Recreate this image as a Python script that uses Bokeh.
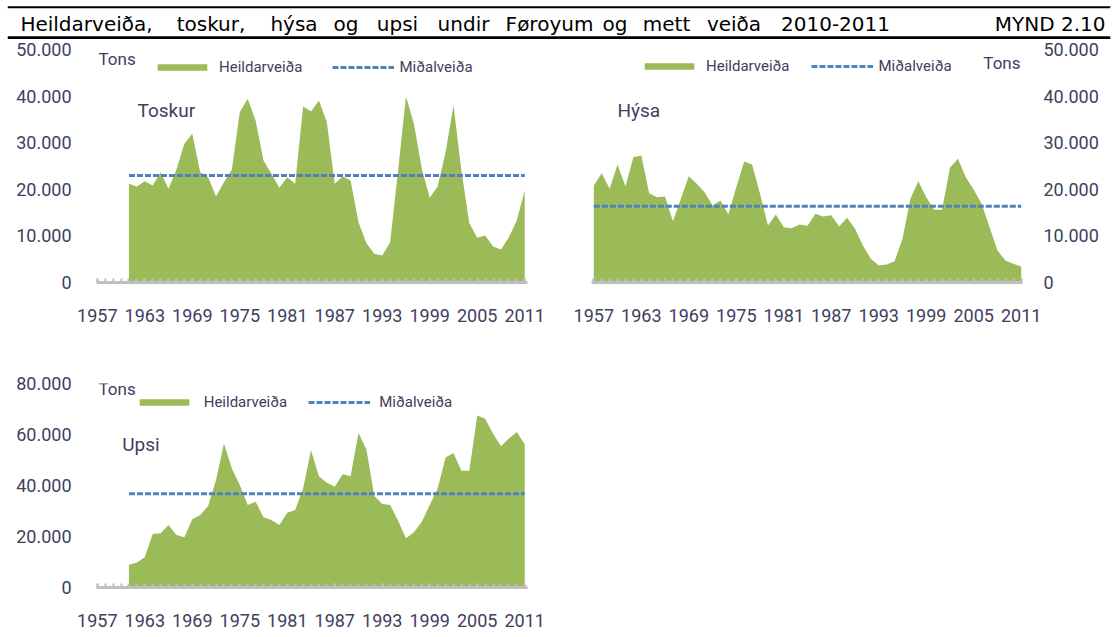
from bokeh.plotting import figure
from bokeh.models import Range1d, FixedTicker, Legend, LegendItem, Label, Span, ColumnDataSource
from bokeh.layouts import column, row
from bokeh.embed import file_html
from bokeh.resources import INLINE
from bokeh.core.properties import value

# ---------------- data ----------------
title_text = "Heildarveiða, toskur, hýsa og upsi undir Føroyum og mett veiða 2010-2011"
figure_tag = "MYND 2.10"
unit_label = "Tons"
panel_names = ["Toskur", "Hýsa", "Upsi"]
legend_labels = ["Heildarveiða", "Miðalveiða"]

years_toskur = list(range(1961, 2012))
toskur = [21170, 20600, 21750, 20820, 23680, 20100, 24250, 29760, 31900, 23680,
          22600, 18450, 21530, 24180, 36550, 39410, 34760, 26180, 23320, 20310,
          22600, 21170, 37770, 36700, 39060, 34410, 21170, 22750, 21890, 12950,
          8440, 6150, 5790, 8660, 24030, 39910, 34050, 24390, 18170, 20600,
          27970, 37980, 24030, 12730, 9590, 10090, 7730, 7080, 9730, 13300, 19740]
toskur_mean = 22960

years_hysa = list(range(1957, 2012))
hysa = [20820, 23460, 20100, 25320, 20600, 26900, 27250, 19170, 18310, 18450,
        13160, 17950, 22820, 21170, 19380, 16520, 17600, 14590, 20460, 25970,
        25320, 19030, 12230, 14590, 11870, 11660, 12450, 12160, 14740, 14160,
        14450, 12020, 13880, 11520, 7940, 5080, 3650, 3860, 4580, 9370,
        17950, 21750, 18310, 15590, 15590, 24610, 26540, 22600, 19890, 16880,
        11870, 6870, 4720, 4010, 3430]
hysa_mean = 16380

years_upsi = list(range(1961, 2012))
upsi = [8910, 9820, 11900, 21020, 21280, 24530, 20630, 19710, 26740, 28440,
        31950, 42110, 56430, 46670, 40160, 32340, 33650, 27530, 26480, 24530,
        29350, 30390, 38850, 53830, 43670, 41070, 39510, 44450, 43670, 60600,
        54090, 35860, 32730, 32340, 26220, 19320, 21670, 25830, 32340, 38850,
        50960, 52790, 45750, 45750, 67500, 66200, 60340, 55390, 58390, 60990, 56170]
upsi_mean = 36770

axis_years = list(range(1957, 2012))
x_ticks = [1957, 1963, 1969, 1975, 1981, 1987, 1993, 1999, 2005, 2011]
x_tick_labels = ["1957", "1963", "1969", "1975", "1981", "1987", "1993", "1999", "2005", "2011"]
y_ticks_50 = [0, 10000, 20000, 30000, 40000, 50000]
y_labels_50 = ["0", "10.000", "20.000", "30.000", "40.000", "50.000"]
y_ticks_80 = [0, 20000, 40000, 60000, 80000]
y_labels_80 = ["0", "20.000", "40.000", "60.000", "80.000"]

# ---------------- style ----------------
GREEN = "#9BBB59"
BLUE = "#4F81BD"
AXIS = "#BFBFBF"
TEXT = "#404060"
FONT = "Roboto"
LBL_DY = -7   # empirical baseline correction for labels (page px)


def to_data(frame, xr, yr, px, py):
    l, t, r, b = frame
    x = xr[0] + (px - l) / (r - l) * (xr[1] - xr[0])
    y = yr[0] + (b - py) / (b - t) * (yr[1] - yr[0])
    return x, y


def make_panel(years, vals, mean, name, fig_box, frame, xr, ymax, y_ticks, y_labels,
               y_side, x_standoff, y_standoff, leg_x, leg_y, leg_spacing, leg_standoff,
               tons_pos, tons_align, name_pos):
    px, py, w, h = fig_box
    l, t, r, b = frame
    p = figure(width=w, height=h, output_backend="svg", toolbar_location=None,
               x_range=Range1d(*xr), y_range=Range1d(0, ymax),
               y_axis_location=y_side,
               min_border_left=l - px, min_border_top=t - py,
               min_border_right=px + w - r, min_border_bottom=py + h - b)
    p.outline_line_color = None
    p.xgrid.visible = False
    p.ygrid.visible = False
    p.background_fill_color = "white"
    p.border_fill_color = "white"

    src = ColumnDataSource(dict(year=years, catch=vals))
    area = p.varea(x="year", y1=0, y2="catch", source=src, fill_color=GREEN, fill_alpha=1.0)
    mean_src = ColumnDataSource(dict(year=[years[0], years[-1]], mean=[mean, mean]))
    mline = p.line(x="year", y="mean", source=mean_src, line_color=BLUE, line_width=3,
                   line_dash="6 2")

    xa = p.xaxis[0]
    xa.ticker = FixedTicker(ticks=x_ticks, minor_ticks=axis_years)
    xa.major_label_overrides = dict(zip(x_ticks, x_tick_labels))
    xa.axis_line_color = AXIS
    xa.axis_line_width = 3
    xa.major_tick_in = 4
    xa.major_tick_out = 0
    xa.minor_tick_in = 4
    xa.minor_tick_out = 0
    xa.major_tick_line_color = AXIS
    xa.minor_tick_line_color = AXIS
    xa.major_tick_line_width = 2
    xa.minor_tick_line_width = 2
    xa.major_label_standoff = x_standoff
    xa.major_label_text_font = FONT
    xa.major_label_text_font_size = "18px"
    xa.major_label_text_color = TEXT

    ya = p.yaxis[0]
    ya.ticker = FixedTicker(ticks=y_ticks)
    ya.major_label_overrides = dict(zip(y_ticks, y_labels))
    ya.axis_line_color = None
    ya.major_tick_line_color = None
    ya.minor_tick_line_color = None
    ya.major_label_standoff = y_standoff
    ya.major_label_text_font = FONT
    ya.major_label_text_font_size = "18px"
    ya.major_label_text_color = TEXT

    leg = Legend(items=[LegendItem(label=value(legend_labels[0]), renderers=[area]),
                        LegendItem(label=value(legend_labels[1]), renderers=[mline])],
                 orientation="horizontal", location=(leg_x, leg_y), padding=0, margin=0,
                 spacing=leg_spacing, label_standoff=leg_standoff, glyph_width=62,
                 glyph_height=8, label_height=8, label_width=10,
                 border_line_color=None, background_fill_alpha=0,
                 label_text_font=FONT, label_text_font_size="15px",
                 label_text_color=TEXT, label_text_baseline="alphabetic")
    p.add_layout(leg)

    tx, ty = to_data(frame, xr, (0, ymax), tons_pos[0], tons_pos[1] + LBL_DY)
    p.add_layout(Label(x=tx, y=ty, text=unit_label, text_font=FONT, text_font_size="17px",
                       text_color=TEXT, text_baseline="alphabetic", text_align=tons_align))
    nx, ny = to_data(frame, xr, (0, ymax), name_pos[0], name_pos[1] + LBL_DY)
    p.add_layout(Label(x=nx, y=ny, text=name, text_font=FONT, text_font_size="19px",
                       text_color=TEXT, text_baseline="alphabetic", text_align="left"))
    return p


# ---------------- header ----------------
HDR_L, HDR_R = 7, 1110
header = figure(width=1115, height=39, output_backend="svg", toolbar_location=None,
                x_range=Range1d(0, HDR_R - HDR_L), y_range=Range1d(0, 39),
                x_axis_location=None, y_axis_location=None, min_border=0,
                min_border_left=HDR_L, min_border_right=1115 - HDR_R)
header.outline_line_color = None
header.xgrid.visible = False
header.ygrid.visible = False
header.add_layout(Span(location=39 - 6.7, dimension="width", line_color="black", line_width=2))
header.add_layout(Span(location=39 - 37.3, dimension="width", line_color="black", line_width=3))
title_words = title_text.split(" ")
title_word_cx = [86, 210.5, 293.5, 345.5, 397, 463, 549, 614.5, 666, 733.5, 835]
TITLE_BASE = 39 - (30 + LBL_DY)
for wd, wx in zip(title_words, title_word_cx):
    header.add_layout(Label(x=wx - HDR_L, y=TITLE_BASE, text=wd, text_font="DejaVu Sans",
                            text_font_size="20px", text_color="black",
                            text_baseline="alphabetic", text_align="center"))
header.add_layout(Label(x=1105 - HDR_L, y=TITLE_BASE, text=figure_tag, text_font="DejaVu Sans",
                        text_font_size="20px", text_color="black",
                        text_baseline="alphabetic", text_align="right"))

# ---------------- panels ----------------
XR_A = (1956.9, 2011.35)
XR_B = (1956.71, 2011.16)

p1 = make_panel(years_toskur, toskur, toskur_mean, panel_names[0],
                (0, 39, 560, 289), (96, 49, 527, 282), XR_A, 50000, y_ticks_50, y_labels_50,
                "left", 26, 19, 55, 206.5, 29, 6, (98, 65), "left", (137, 117.3))
p2 = make_panel(years_hysa, hysa, hysa_mean, panel_names[1],
                (560, 39, 555, 289), (591, 49, 1022, 282), XR_B, 50000, y_ticks_50, y_labels_50,
                "right", 26, 15, 47, 206.7, 21, 6, (1020, 69.3), "right", (617, 117.3))
p3 = make_panel(years_upsi, upsi, upsi_mean, panel_names[2],
                (0, 328, 560, 308), (96, 383, 527, 587), XR_A, 80000, y_ticks_80, y_labels_80,
                "left", 26, 19, 36.7, 175.7, 21, 9, (98, 395), "left", (121.7, 450.7))

layout = column(row(header), row(p1, p2), row(p3))
open("out.html", "w").write(file_html(layout, INLINE))
